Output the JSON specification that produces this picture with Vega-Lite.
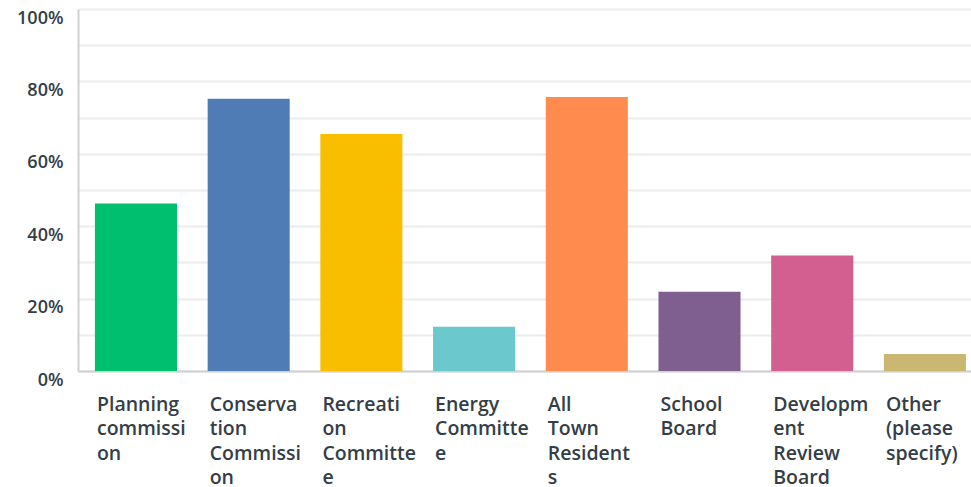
{
  "$schema": "https://vega.github.io/schema/vega-lite/v6.json",
  "width": 893,
  "height": 362,
  "autosize": "none",
  "padding": {"left": 78, "top": 9, "right": 0, "bottom": 116},
  "background": "#ffffff",
  "data": {
    "values": [
      {"answer": "Planning commission", "pct": 0.463},
      {"answer": "Conservation Commission", "pct": 0.752},
      {"answer": "Recreation Committee", "pct": 0.655},
      {"answer": "Energy Committee", "pct": 0.122},
      {"answer": "All Town Residents", "pct": 0.757},
      {"answer": "School Board", "pct": 0.219},
      {"answer": "Development Review Board", "pct": 0.319},
      {"answer": "Other (please specify)", "pct": 0.047}
    ]
  },
  "mark": {"type": "bar"},
  "encoding": {
    "x": {
      "field": "answer",
      "type": "nominal",
      "sort": null,
      "scale": {"paddingInner": 0.272, "paddingOuter": 0.0976, "align": 0.77},
      "axis": {
        "title": null,
        "labelAngle": 0,
        "labelAlign": "left",
        "labelBaseline": "top",
        "labelOffset": -39,
        "labelPadding": 24,
        "labelLineHeight": 24.5,
        "labelFont": "Open Sans",
        "labelFontWeight": 600,
        "labelFontSize": 19.5,
        "labelColor": "#333e48",
        "labelLimit": 0,
        "labelOverlap": false,
        "ticks": false,
        "grid": false,
        "domainColor": "#d0d0d0",
        "domainWidth": 2,
        "labelExpr": "{'Planning commission': ['Planning','commissi','on'], 'Conservation Commission': ['Conserva','tion','Commissi','on'], 'Recreation Committee': ['Recreati','on','Committe','e'], 'Energy Committee': ['Energy','Committe','e'], 'All Town Residents': ['All','Town','Resident','s'], 'School Board': ['School','Board'], 'Development Review Board': ['Developm','ent','Review','Board'], 'Other (please specify)': ['Other','(please','specify)']}[datum.value]"
      }
    },
    "y": {
      "field": "pct",
      "type": "quantitative",
      "scale": {"domain": [0, 1], "nice": false},
      "axis": {
        "title": null,
        "values": [0, 0.1, 0.2, 0.3, 0.4, 0.5, 0.6, 0.7, 0.8, 0.9, 1],
        "labelExpr": "round(datum.value*10) % 2 == 0 ? format(datum.value, '.0%') : ''",
        "ticks": false,
        "labelPadding": 15,
        "labelOffset": 9,
        "labelFont": "Open Sans",
        "labelFontWeight": 600,
        "labelFontSize": 18,
        "labelColor": "#333e48",
        "gridColor": "#ececec",
        "gridWidth": 2,
        "domainColor": "#d0d0d0",
        "domainWidth": 2
      }
    },
    "color": {
      "field": "answer",
      "type": "nominal",
      "legend": null,
      "scale": {
        "domain": ["Planning commission", "Conservation Commission", "Recreation Committee", "Energy Committee", "All Town Residents", "School Board", "Development Review Board", "Other (please specify)"],
        "range": ["#00bf6f", "#507cb6", "#f9be00", "#6bc8cd", "#ff8b4f", "#7f5f90", "#d25f90", "#c9b772"]
      }
    }
  },
  "config": {"view": {"stroke": null}}
}
